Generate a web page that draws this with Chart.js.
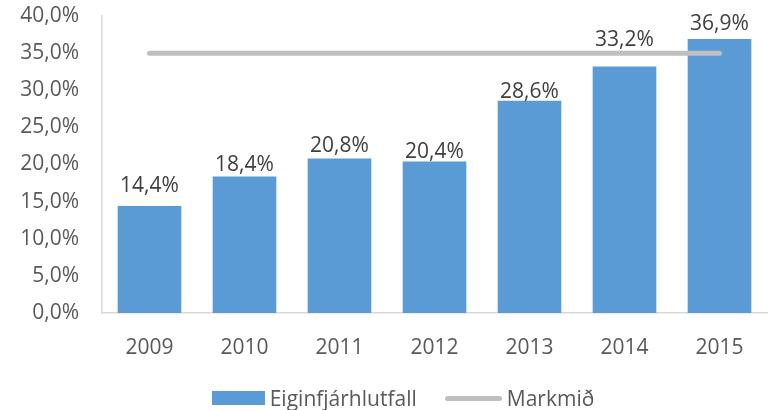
<!DOCTYPE html>
<html>
<head>
<meta charset="utf-8">
<script src="https://cdn.jsdelivr.net/npm/chart.js@4"></script>
<style>
  body { margin: 0; background: #fff; font-family: "Open Sans", sans-serif; }
  #wrap { position: relative; width: 768px; height: 410px; }
  #legend { position: absolute; left: 0; top: 384px; width: 768px; box-sizing: border-box; padding-left: 38px; display: flex; justify-content: center; align-items: center; font-size: 21px; color: #595959; }
  .item { display: flex; align-items: center; margin: 0 14px; }
  .swatch-bar { width: 53px; height: 14px; background: #5b9bd5; margin-right: 5px; }
  .swatch-line { width: 57px; height: 5px; border-radius: 3px; background: #bfbfbf; margin-right: 5px; }
</style>
</head>
<body>
<div id="wrap">
  <canvas id="metricsChart" width="768" height="410"></canvas>
  <div id="legend">
    <div class="item"><span class="swatch-bar"></span>Eiginfjárhlutfall</div>
    <div class="item"><span class="swatch-line"></span>Markmið</div>
  </div>
</div>
<script>
const years = ['2009', '2010', '2011', '2012', '2013', '2014', '2015'];
const ratio = [14.4, 18.4, 20.8, 20.4, 28.6, 33.2, 36.9];
const target = [35, 35, 35, 35, 35, 35, 35];
// labels were placed by hand in the original, px above the bar top
const labelLift = [14, 5, 7, 4, 3, 20, 9];

const fmt = v => v.toFixed(1).replace('.', ',') + '%';

// draw value labels above the bars
const barLabels = {
    id: 'barLabels',
    afterDatasetsDraw(chart) {
        const ctx = chart.ctx;
        const meta = chart.getDatasetMeta(1);
        ctx.save();
        ctx.font = '21px "Open Sans"';
        ctx.fillStyle = '#404040';
        ctx.textAlign = 'center';
        ctx.textBaseline = 'alphabetic';
        meta.data.forEach((bar, i) => {
            ctx.fillText(fmt(ratio[i]), bar.x, bar.y - labelLift[i]);
        });
        ctx.restore();
    }
};

new Chart(document.getElementById('metricsChart').getContext('2d'), {
    data: {
        labels: years,
        datasets: [
            {
                type: 'line', label: 'Markmið', data: target,
                borderColor: '#bfbfbf', borderWidth: 5, borderCapStyle: 'round',
                pointRadius: 0, fill: false, order: 0
            },
            {
                type: 'bar', label: 'Eiginfjárhlutfall', data: ratio,
                backgroundColor: '#5b9bd5', categoryPercentage: 1, barPercentage: 0.67, order: 1
            }
        ]
    },
    options: {
        responsive: false, animation: false,
        layout: { padding: { top: 16, right: 1, bottom: 37, left: 0 } },
        plugins: { legend: { display: false }, tooltip: { enabled: false } },
        scales: {
            y: {
                min: 0, max: 40,
                ticks: { stepSize: 5, color: '#595959', font: { size: 21, family: 'Open Sans' }, padding: 15, callback: v => fmt(v) },
                grid: { display: false },
                border: { color: '#d9d9d9', width: 1.5 },
                afterFit: s => { s.width = 102; s.paddingTop = 0; s.paddingBottom = 0; }
            },
            x: {
                ticks: { color: '#595959', font: { size: 21, family: 'Open Sans' }, padding: 14 },
                grid: { display: false },
                border: { color: '#d9d9d9', width: 1.5 },
                afterFit: s => { s.height = 60; }
            }
        }
    },
    plugins: [barLabels]
});
</script>
</body>
</html>
